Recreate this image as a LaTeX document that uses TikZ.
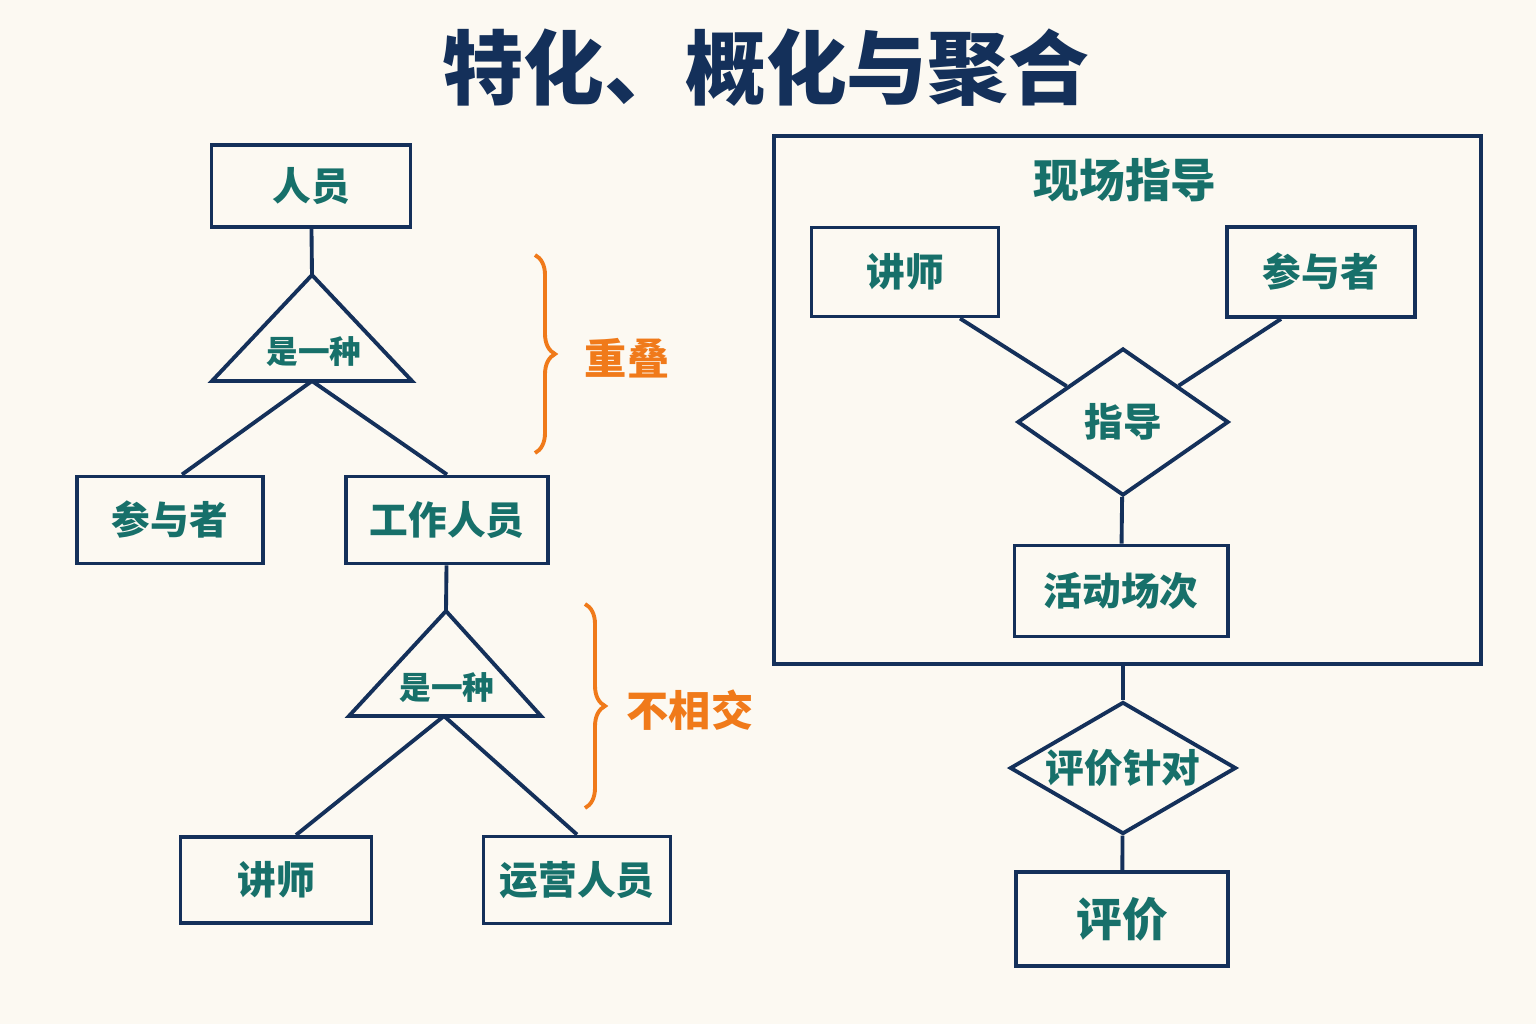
\documentclass[tikz,border=0pt]{standalone}
\usepackage{fontspec}
\setmainfont{Noto Sans CJK SC}
\usetikzlibrary{shapes.geometric,decorations.pathreplacing}
\definecolor{navy}{HTML}{14305A}
\definecolor{teal}{HTML}{17706A}
\definecolor{orng}{HTML}{F07A1A}
\definecolor{paper}{HTML}{FCF9F2}
\tikzstyle{ent} = [rectangle, draw=navy, line width=1.1pt, fill=paper, text=teal, font=\fontsize{11}{13}\selectfont\bfseries, align=center, inner sep=0pt]
\tikzstyle{rel} = [diamond, draw=navy, line width=1.1pt, text=teal, font=\fontsize{11}{13}\selectfont\bfseries, inner sep=0pt]
\tikzstyle{line} = [draw=navy, line width=1.1pt]
\tikzstyle{brc} = [draw=orng, line width=1.1pt, decorate, decoration={brace, amplitude=0.2cm}]
\tikzstyle{note} = [text=orng, font=\fontsize{12}{14}\selectfont\bfseries]
\begin{document}
\begin{tikzpicture}[x=0.01cm, y=-0.01cm]
        \fill[paper] (0,0) rectangle (1536,1024);
        \useasboundingbox (0,0) rectangle (1536,1024);

        \node (title) [text=navy, font=\fontsize{23}{26}\selectfont\bfseries] at (766,68) {特化、概化与聚合};

        % specialisation, left side
        \node (ry) [ent, minimum width=1.99cm, minimum height=0.82cm] at (311,186) {人员};
        \coordinate (t1a) at (312,275);
        \coordinate (t1b) at (312,381);
        \draw[line] (t1a) -- (412,381) -- (212,381) -- cycle;
        \node (t1) [text=teal, font=\fontsize{9}{11}\selectfont\bfseries] at (314,352) {是一种};
        \node (cyz) [ent, minimum width=1.86cm, minimum height=0.87cm] at (170,520) {参与者};
        \node (gzry) [ent, minimum width=2.02cm, minimum height=0.87cm] at (447,520) {工作人员};
        \draw[line] (ry) -- (t1a);
        \draw[line] (t1b) -- ([xshift=0.12cm]cyz.north);
        \draw[line] (t1b) -- (gzry.north);

        \coordinate (t2a) at (446,611);
        \coordinate (t2b) at (444,716);
        \draw[line] (t2a) -- (541,716) -- (349,716) -- cycle;
        \node (t2) [text=teal, font=\fontsize{9}{11}\selectfont\bfseries] at (447,688) {是一种};
        \node (js) [ent, minimum width=1.91cm, minimum height=0.86cm] at (276,880) {讲师};
        \node (yyry) [ent, minimum width=1.87cm, minimum height=0.87cm] at (577,880) {运营人员};
        \draw[line] (gzry) -- (t2a);
        \draw[line] (t2b) -- ([xshift=0.2cm]js.north);
        \draw[line] (t2b) -- (yyry.north);

        \coordinate (b1a) at (535,255);
        \coordinate (b1b) at (535,453);
        \draw[brc] (b1a) -- (b1b);
        \node (cd) [note] at (627,358) {重叠};
        \coordinate (b2a) at (585,604);
        \coordinate (b2b) at (585,808);
        \draw[brc] (b2a) -- (b2b);
        \node (bxj) [note] at (690,710) {不相交};

        % aggregation, right side
        \node (xczd) [rectangle, draw=navy, line width=1.1pt, minimum width=7.07cm, minimum height=5.28cm] at (1127.5,400) {};
        \node (xczdt) [text=teal, font=\fontsize{13}{15}\selectfont\bfseries] at (1125,180) {现场指导};
        \node (js2) [ent, minimum width=1.87cm, minimum height=0.89cm] at (905,272) {讲师};
        \node (cyz2) [ent, minimum width=1.88cm, minimum height=0.9cm] at (1321,272) {参与者};
        \node (zd) [rel, minimum width=2.11cm, minimum height=1.47cm, aspect=1.44] at (1123,422) {指导};
        \node (hdcc) [ent, minimum width=2.13cm, minimum height=0.91cm] at (1121,591) {活动场次};
        \draw[line] ([xshift=0.55cm]js2.south) -- (zd);
        \draw[line] ([xshift=-0.4cm]cyz2.south) -- (zd);
        \draw[line] (zd) -- (hdcc);

        \node (pjzd) [rel, minimum width=2.26cm, minimum height=1.32cm, aspect=1.7] at (1123,768) {评价针对};
        \node (pj) [ent, minimum width=2.12cm, minimum height=0.94cm, font=\fontsize{13}{15}\selectfont\bfseries] at (1122,919) {评价};
        \draw[line] (xczd.south -| pjzd.north) -- (pjzd);
        \draw[line] (pjzd) -- (pj);
\end{tikzpicture}
\end{document}
